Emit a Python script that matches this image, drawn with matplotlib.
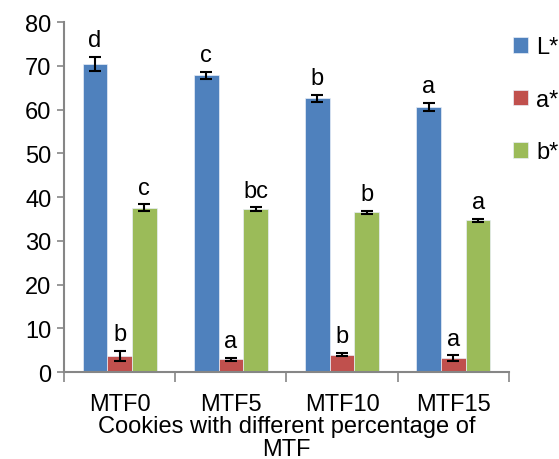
import numpy as np
import matplotlib.pyplot as plt

plt.rcParams['font.family'] = ['Liberation Sans', 'DejaVu Sans']

# Data
samples = ["MTF0", "MTF5", "MTF10", "MTF15"]
series_names = ["L*", "a*", "b*"]
L_vals = [70.4, 67.8, 62.6, 60.6]
L_err = [1.6, 0.8, 0.8, 1.0]
a_vals = [3.7, 2.9, 4.0, 3.2]
a_err = [1.2, 0.4, 0.4, 0.6]
b_vals = [37.5, 37.2, 36.5, 34.7]
b_err = [0.8, 0.5, 0.4, 0.3]
L_letters = ["d", "c", "b", "a"]
a_letters = ["b", "a", "b", "a"]
b_letters = ["c", "bc", "b", "a"]

colors = ["#4F81BD", "#C0504D", "#9BBB59"]
SPINE = "#868686"
FS = 17

fig = plt.figure(figsize=(5.59, 4.60), dpi=100)
ax = fig.add_axes([0.1145, 0.189, 0.796, 0.761])

x = np.arange(len(samples))
width = 1 / 4.5  # Excel gap width 150%
offsets = [-width, 0, width]

all_vals = [L_vals, a_vals, b_vals]
all_err = [L_err, a_err, b_err]
all_letters = [L_letters, a_letters, b_letters]

for vals, errs, letters, off, col, name in zip(all_vals, all_err, all_letters,
                                                offsets, colors, series_names):
    ax.bar(x + off, vals, width, color=col, edgecolor="#e8eef7", linewidth=0.5,
           label=name, zorder=2)
    ax.errorbar(x + off, vals, yerr=errs, fmt="none", ecolor="black",
                elinewidth=1.5, capsize=4, capthick=1.5, zorder=3)
    for xi, v, e, t in zip(x + off, vals, errs, letters):
        ax.annotate(t, (xi, v + e), xytext=(0, 4), textcoords="offset points",
                    ha="center", va="bottom", fontsize=FS)

ax.set_xlim(-0.5, len(samples) - 0.5)
ax.set_ylim(0, 80)
ax.set_yticks(range(0, 81, 10))
ax.tick_params(axis="y", labelsize=FS, length=5, width=1.2, color=SPINE, pad=4)

# category boundary ticks on x axis
ax.set_xticks(np.arange(-0.5, len(samples), 1))
ax.set_xticklabels([])
ax.set_xticks(x, minor=True)
ax.set_xticklabels(samples, minor=True, fontsize=FS)
ax.tick_params(axis="x", which="major", length=7, width=1.2, color=SPINE)
ax.tick_params(axis="x", which="minor", length=0, pad=15)

for side in ["top", "right"]:
    ax.spines[side].set_visible(False)
for side in ["left", "bottom"]:
    ax.spines[side].set_color(SPINE)
    ax.spines[side].set_linewidth(1.5)

ax.set_xlabel("Cookies with different percentage of\nMTF", fontsize=FS,
              labelpad=0, linespacing=1.05)

fig.legend(loc="upper left", bbox_to_anchor=(0.9, 0.94), frameon=False,
           fontsize=FS, handlelength=0.65, handleheight=0.65,
           handletextpad=0.35, labelspacing=1.3, borderaxespad=0)

fig.savefig("out.png", dpi=100)
